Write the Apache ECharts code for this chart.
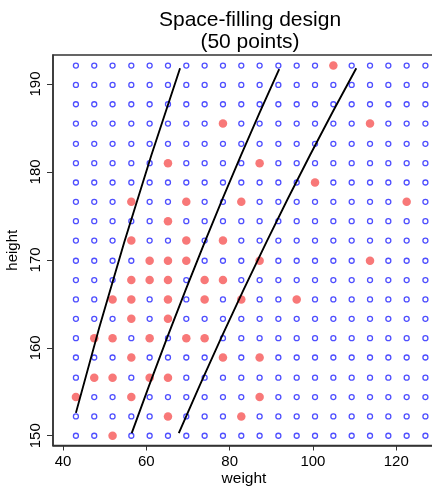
<!DOCTYPE html>
<html>
<head>
<meta charset="utf-8">
<script src="https://cdn.jsdelivr.net/npm/echarts@6/dist/echarts.min.js"></script>
<style>
html,body{margin:0;padding:0;background:#fff;}
#chart{width:432px;height:487px;}
</style>
</head>
<body>
<div id="chart"></div>
<script>
// Candidate grid levels
var weightLevels = [43.1, 47.5, 51.9, 56.4, 60.8, 65.2, 69.6, 74.0, 78.4, 82.8,
                    87.2, 91.7, 96.1, 100.5, 104.9, 109.3, 113.7, 118.1, 122.5, 127.0];
var heightLevels = [150.0, 152.2, 154.4, 156.6, 158.9, 161.1, 163.3, 165.5, 167.7, 169.9,
                    172.2, 174.4, 176.6, 178.8, 181.0, 183.2, 185.5, 187.7, 189.9, 192.1];

// Selected design points (50)
var designWeight = [104.9,
  78.4, 113.7,
  65.2, 87.2,
  100.5,
  56.4, 69.6, 82.8, 122.5,
  65.2,
  56.4, 69.6, 78.4,
  60.8, 65.2, 69.6, 87.2, 113.7,
  56.4, 60.8, 65.2, 74.0, 78.4,
  51.9, 56.4, 65.2, 74.0, 82.8, 96.1,
  56.4, 65.2,
  47.5, 51.9, 60.8, 69.6, 74.0,
  56.4, 78.4, 87.2,
  47.5, 51.9, 60.8, 65.2,
  43.1, 56.4, 87.2,
  65.2, 82.8,
  51.9];
var designHeight = [192.1,
  185.5, 185.5,
  181.0, 181.0,
  178.8,
  176.6, 176.6, 176.6, 176.6,
  174.4,
  172.2, 172.2, 172.2,
  169.9, 169.9, 169.9, 169.9, 169.9,
  167.7, 167.7, 167.7, 167.7, 167.7,
  165.5, 165.5, 165.5, 165.5, 165.5, 165.5,
  163.3, 163.3,
  161.1, 161.1, 161.1, 161.1, 161.1,
  158.9, 158.9, 158.9,
  156.6, 156.6, 156.6, 156.6,
  154.4, 154.4, 154.4,
  152.2, 152.2,
  150.0];

// BMI reference curves (weight, height)
var bmi185 = [[43.1, 152.6], [54.7, 172.0], [68.1, 191.8]];
var bmi25  = [[56.5, 150.3], [74.0, 172.0], [91.9, 191.7]];
var bmi30  = [[67.8, 150.3], [88.8, 172.0], [110.4, 191.8]];

var xTicks = [40, 60, 80, 100, 120];
var yTicks = [150, 160, 170, 180, 190];

var gridPts = [];
heightLevels.forEach(function (h) {
  weightLevels.forEach(function (w) { gridPts.push([w, h]); });
});
var designPts = designWeight.map(function (w, i) { return [w, designHeight[i]]; });

var FONT = 'Liberation Sans, Arial, Helvetica, sans-serif';
var chart = echarts.init(document.getElementById('chart'), null, {renderer: 'canvas'});
var lineSeries = function (d) {
  return {
    type: 'line', data: d, smooth: true, showSymbol: false, silent: true,
    lineStyle: {color: '#000', width: 1.9}, z: 4
  };
};
chart.setOption({
  animation: false,
  backgroundColor: '#fff',
  title: {
    text: 'Space-filling design\n(50 points)',
    left: 245, top: 4, textAlign: 'center',
    textStyle: {fontFamily: FONT, fontSize: 21, fontWeight: 'normal', color: '#000', lineHeight: 22}
  },
  grid: {
    left: 53, right: -3, top: 55, bottom: 41.5,
    outerBoundsMode: 'none', containLabel: false,
    show: true, borderColor: '#333', borderWidth: 1.5, backgroundColor: 'transparent'
  },
  xAxis: {
    type: 'value', min: 37.6, max: 129.3,
    name: 'weight', nameLocation: 'middle', nameGap: 25, nameMoveOverlap: false,
    nameTextStyle: {fontFamily: FONT, fontSize: 15.5, color: '#000'},
    axisLine: {show: true, onZero: false, lineStyle: {color: '#333', width: 1.5}},
    axisTick: {show: true, length: 5, customValues: xTicks, lineStyle: {color: '#333', width: 1}},
    axisLabel: {customValues: xTicks, fontFamily: FONT, fontSize: 15, color: '#000', margin: 9},
    splitLine: {show: false}
  },
  yAxis: {
    type: 'value', min: 148.89, max: 193.3,
    name: 'height', nameLocation: 'middle', nameGap: 33, nameRotate: 90, nameMoveOverlap: false,
    nameTextStyle: {fontFamily: FONT, fontSize: 15, color: '#000'},
    axisLine: {show: true, onZero: false, lineStyle: {color: '#333', width: 1.5}},
    axisTick: {show: true, length: 6, customValues: yTicks, lineStyle: {color: '#333', width: 1}},
    axisLabel: {customValues: yTicks, rotate: 90, fontFamily: FONT, fontSize: 15, color: '#000', margin: 10},
    splitLine: {show: false}
  },
  series: [
    {
      type: 'scatter', data: gridPts, symbol: 'circle', symbolSize: 5, silent: true,
      itemStyle: {color: '#fff', borderColor: '#4f4fff', borderWidth: 1.3, opacity: 1}, z: 2
    },
    {
      type: 'scatter', data: designPts, symbol: 'circle', symbolSize: 8.5, silent: true,
      itemStyle: {color: '#f87878', opacity: 1}, z: 3
    },
    lineSeries(bmi185),
    lineSeries(bmi25),
    lineSeries(bmi30)
  ]
});
</script>
</body>
</html>
